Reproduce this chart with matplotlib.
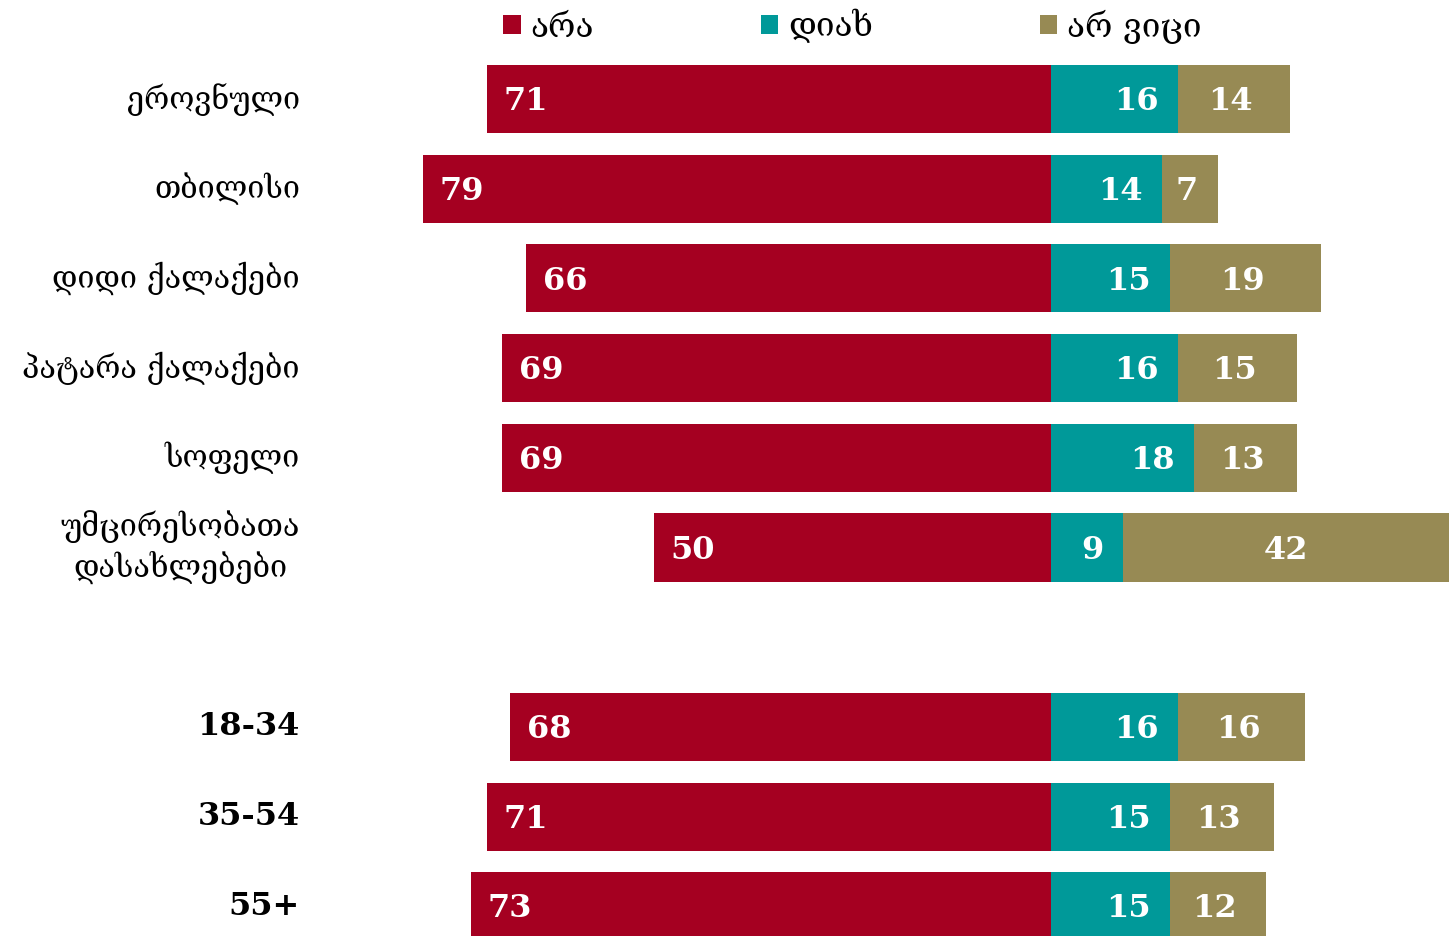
import numpy as np
import matplotlib
matplotlib.use('Agg')
import matplotlib.pyplot as plt

plt.rcParams['font.family'] = ['DejaVu Serif', 'DejaVu Sans']

# Data
categories = ['ეროვნული', 'თბილისი', 'დიდი ქალაქები', 'პატარა ქალაქები', 'სოფელი',
              'უმცირესობათა\nდასახლებები', '18-34', '35-54', '55+']
positions = [0, 1, 2, 3, 4, 5, 7, 8, 9]
no_vals = [71, 79, 66, 69, 69, 50, 68, 71, 73]
yes_vals = [16, 14, 15, 16, 18, 9, 16, 15, 15]
dk_vals = [14, 7, 19, 15, 13, 42, 16, 13, 12]
series_names = ['არა', 'დიახ', 'არ ვიცი']

red = '#A50021'
teal = '#009999'
olive = '#978A54'

W, H = 1449, 936
fig = plt.figure(figsize=(W / 100, H / 100), dpi=100)
ax = fig.add_axes([0, 0, 1, 1])

# pixel mapping: zero at x=1051, ~7.95 px per unit; row 0 at y=99, ~89.7 px per row
zero_px, px_per = 1051, 7.95
ax.set_xlim(-zero_px / px_per, (W - zero_px) / px_per)
ax.set_ylim((H - 99) / 89.7, -99 / 89.7)
ax.axis('off')

pos = np.array(positions)
no = np.array(no_vals)
yes = np.array(yes_vals)
dk = np.array(dk_vals)
h = 0.76

b1 = ax.barh(pos, -no, height=h, color=red, label=series_names[0])
b2 = ax.barh(pos, yes, height=h, color=teal, label=series_names[1])
b3 = ax.barh(pos, dk, left=yes, height=h, color=olive, label=series_names[2])

fs_val = 23
dy = 0.03
for p, n, y, d in zip(pos, no, yes, dk):
    ax.text(-n + 2.1, p + dy, str(n), ha='left', va='center', color='white',
            fontsize=fs_val, fontweight='bold')
    ax.text(y - 2.4, p + dy, str(y), ha='right', va='center', color='white',
            fontsize=fs_val, fontweight='bold')
    ax.text(y + d / 2 - 0.4, p + dy, str(d), ha='center', va='center', color='white',
            fontsize=fs_val, fontweight='bold')

label_x = (300 - zero_px) / px_per
for p, c in zip(pos, categories):
    is_age = c[0].isdigit()
    ax.text(label_x, p, c, ha='right', va='center', multialignment='center',
            fontsize=23 if is_age else 22, fontweight='bold' if is_age else 'normal',
            color='black', linespacing=1.3)

leg = ax.legend(handles=[b1, b2, b3], loc='upper left', ncol=3, frameon=False,
                bbox_to_anchor=(490 / W, 1 + 4 / H), fontsize=24,
                handlelength=0.52, handleheight=0.52, handletextpad=0.3,
                columnspacing=5.0, borderaxespad=0)

fig.savefig('out.png', dpi=100)
